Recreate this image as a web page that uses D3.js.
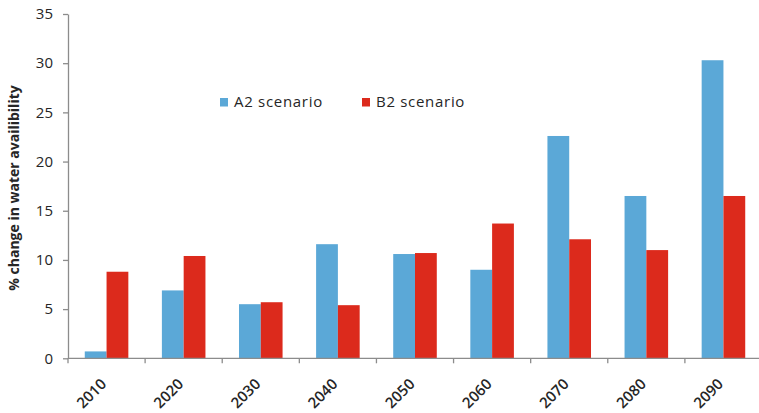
<!DOCTYPE html>
<html>
<head>
<meta charset="utf-8">
<script src="https://cdn.jsdelivr.net/npm/d3@7"></script>
<style>
  html, body { margin: 0; padding: 0; background: #fff; overflow: hidden; }
  svg { display: block; font-family: "Open Sans", "DejaVu Sans", sans-serif; }
</style>
</head>
<body>
<svg id="chart" width="759" height="413"></svg>
<script>
// Projected change in water availability by decade
const decades = ["2010", "2020", "2030", "2040", "2050", "2060", "2070", "2080", "2090"];
const seriesNames = ["A2 scenario", "B2 scenario"];
const a2Values = [0.7, 6.9, 5.5, 11.6, 10.6, 9.0, 22.6, 16.5, 30.3];
const b2Values = [8.8, 10.4, 5.7, 5.4, 10.7, 13.7, 12.1, 11.0, 16.5];
const yTicks = [0, 5, 10, 15, 20, 25, 30, 35];
const seriesColors = ["#5ba8d7", "#dc2a1c"];

const rows = decades.map((d, i) => ({ decade: d, values: [a2Values[i], b2Values[i]] }));

const svg = d3.select("#chart");
const margin = { left: 68, right: -3 };
const width = 759;

const x0 = d3.scaleBand().domain(decades).range([margin.left, width - margin.right]).paddingInner(0).paddingOuter(0);
const x1 = d3.scaleBand().domain(seriesNames).range([0, x0.bandwidth()]).paddingInner(0).paddingOuter(0.77);
const y = d3.scaleLinear().domain([0, 35]).range([358.3, 14]);

const axisColor = "#8c8c8c";
const textColor = "#262626";

// bars
const groups = svg.append("g").selectAll("g").data(rows).join("g")
  .attr("transform", d => `translate(${x0(d.decade)},0)`);
groups.selectAll("rect").data(d => d.values.map((v, i) => ({ v, i })))
  .join("rect")
  .attr("x", d => x1(seriesNames[d.i]))
  .attr("width", x1.bandwidth())
  .attr("y", d => y(d.v))
  .attr("height", d => y(0) - y(d.v))
  .attr("fill", d => seriesColors[d.i]);

// y axis
const yAxis = svg.append("g").attr("transform", `translate(${margin.left},0)`)
  .call(d3.axisLeft(y).tickValues(yTicks).tickSize(5).tickPadding(10).tickSizeOuter(0));
yAxis.select(".domain").attr("stroke", axisColor).attr("stroke-width", 1.3);
yAxis.selectAll(".tick line").attr("stroke", axisColor).attr("stroke-width", 1.3);
yAxis.selectAll(".tick text").attr("fill", textColor).style("font-size", "15px")
  .style("font-family", "'Open Sans', sans-serif");

// x axis line and ticks at category boundaries
const xAxisG = svg.append("g");
xAxisG.append("line")
  .attr("x1", margin.left).attr("x2", width)
  .attr("y1", y(0)).attr("y2", y(0))
  .attr("stroke", axisColor).attr("stroke-width", 1.3);
const boundaries = decades.map(d => x0(d)).concat([x0(decades[decades.length - 1]) + x0.bandwidth()]);
xAxisG.selectAll("line.tick").data(boundaries).join("line")
  .attr("class", "tick")
  .attr("x1", d => d).attr("x2", d => d)
  .attr("y1", y(0)).attr("y2", y(0) + 5)
  .attr("stroke", axisColor).attr("stroke-width", 1.3);

// rotated decade labels
xAxisG.selectAll("text").data(decades).join("text")
  .attr("transform", d => `translate(${x0(d) + x0.bandwidth() / 2 - 3},${y(0) + 23}) rotate(-45)`)
  .attr("text-anchor", "end")
  .attr("dy", "0.35em")
  .attr("fill", textColor)
  .style("font-size", "15px")
  .style("font-weight", "600")
  .text(d => d);

// y axis title
svg.append("text")
  .attr("transform", `translate(19,188) rotate(-90)`)
  .attr("text-anchor", "middle")
  .attr("fill", textColor)
  .style("font-size", "14px")
  .style("font-weight", "700")
  .text("% change in water availibility");

// legend
const legendX = [220, 362];
const legend = svg.append("g").selectAll("g").data(seriesNames).join("g")
  .attr("transform", (d, i) => `translate(${legendX[i]},98)`);
legend.append("rect").attr("width", 8).attr("height", 8.5).attr("fill", (d, i) => seriesColors[i]);
legend.append("text")
  .attr("x", 14).attr("y", 4).attr("dy", "0.35em")
  .attr("fill", textColor)
  .style("font-size", "15px")
  .style("letter-spacing", "0.7px")
  .text(d => d);
</script>
</body>
</html>
